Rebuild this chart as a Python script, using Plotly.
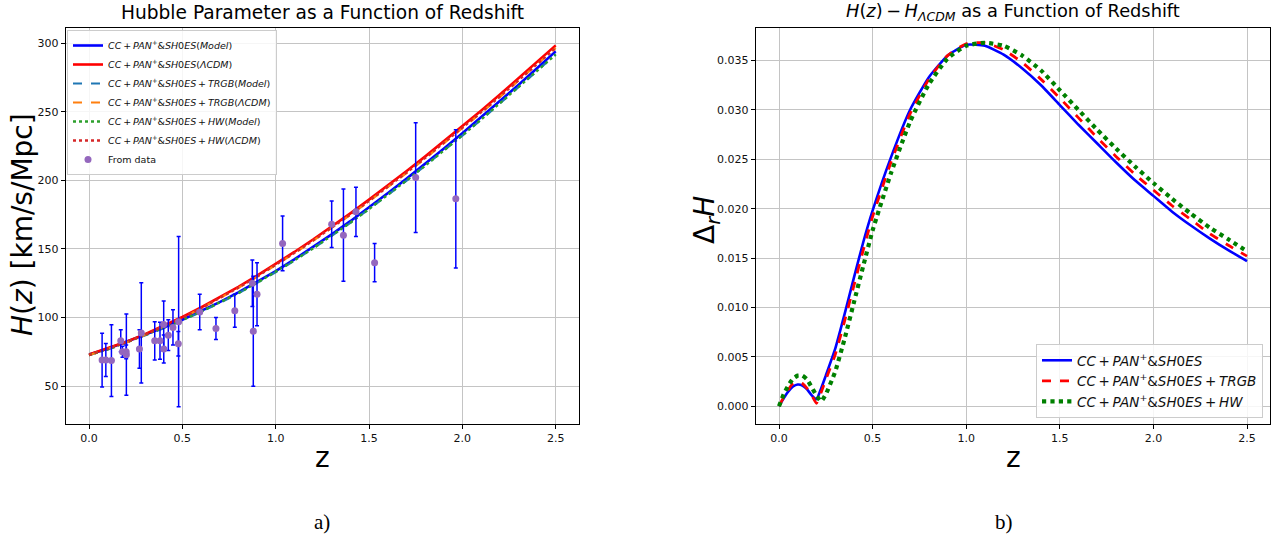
import plotly.graph_objects as go

# ---------------- data: panel a) ----------------
z_curve = [0.0, 0.1, 0.2, 0.3, 0.4, 0.5, 0.6, 0.7, 0.8, 0.9, 1.0, 1.1, 1.2, 1.3,
           1.4, 1.5, 1.6, 1.7, 1.8, 1.9, 2.0, 2.1, 2.2, 2.3, 2.4, 2.5]
H_model = [73.0, 77.23, 82.31, 87.38, 92.66, 98.39, 104.60, 111.23, 118.33, 125.90,
           133.90, 142.39, 151.29, 160.58, 170.22, 180.22, 190.51, 201.06, 211.88,
           222.96, 234.25, 245.79, 257.52, 269.47, 281.62, 293.96]
H_lcdm = [73.0, 77.40, 82.36, 87.87, 93.88, 100.38, 107.31, 114.67, 122.41, 130.53,
          138.99, 147.78, 156.87, 166.27, 175.94, 185.89, 196.10, 206.55, 217.25,
          228.19, 239.35, 250.73, 262.32, 274.13, 286.14, 298.35]
H_trgb_model = [72.53, 76.71, 81.80, 86.86, 92.15, 97.82, 103.97, 110.55, 117.58, 125.08,
                133.02, 141.42, 150.22, 159.44, 169.01, 178.92, 189.14, 199.63, 210.38,
                221.38, 232.58, 244.04, 255.68, 267.58, 279.65, 291.90]
H_trgb_lcdm = [72.53, 76.90, 81.82, 87.30, 93.27, 99.73, 106.61, 113.92, 121.61, 129.68,
               138.09, 146.82, 155.85, 165.19, 174.80, 184.68, 194.83, 205.21, 215.84,
               226.71, 237.79, 249.10, 260.61, 272.35, 284.28, 296.41]
H_hw_model = [72.63, 76.77, 81.87, 87.12, 92.43, 98.10, 104.24, 110.81, 117.83, 125.31,
              133.25, 141.63, 150.39, 159.57, 169.11, 179.04, 189.27, 199.77, 210.52,
              221.53, 232.77, 244.24, 255.92, 267.82, 279.90, 291.60]
H_hw_lcdm = [72.63, 77.01, 81.95, 87.43, 93.41, 99.88, 106.77, 114.10, 121.80, 129.88,
             138.30, 147.04, 156.09, 165.44, 175.06, 184.96, 195.12, 205.52, 216.16,
             227.05, 238.15, 249.48, 261.01, 272.76, 284.71, 296.40]

z_obs = [0.07, 0.09, 0.12, 0.17, 0.179, 0.199, 0.2, 0.27, 0.28, 0.352, 0.3802, 0.4,
         0.4004, 0.4247, 0.4497, 0.4783, 0.48, 0.593, 0.68, 0.781, 0.875, 0.88, 0.9,
         1.037, 1.3, 1.363, 1.43, 1.53, 1.75, 1.965]
H_obs = [69, 69, 68.6, 83, 75, 75, 72.9, 77, 88.8, 83, 83, 95, 77, 87.1, 92.8, 80.9,
         97, 104, 92, 105, 125, 90, 117, 154, 168, 160, 177, 140, 202, 186.5]
H_err = [19.6, 12, 26.2, 8, 4, 5, 29.6, 14, 36.6, 14, 13.5, 17, 10.2, 11.2, 12.9, 9,
         62, 13, 8, 12, 17, 40, 23, 20, 17, 33.6, 18, 14, 40, 50.4]

# ---------------- data: panel b) ----------------
z_d = [0.0, 0.025, 0.05, 0.075, 0.1, 0.125, 0.15, 0.175, 0.2, 0.225, 0.25, 0.3, 0.35,
       0.4, 0.45, 0.5, 0.6, 0.7, 0.8, 0.9, 1.0, 1.1, 1.2, 1.3, 1.4, 1.5, 1.6, 1.7,
       1.8, 1.9, 2.0, 2.1, 2.2, 2.3, 2.4, 2.5]
dH_base = [0.0, 0.0008, 0.0015, 0.0020, 0.0022, 0.0021, 0.0017, 0.0011, 0.0007, 0.0018,
           0.0031, 0.0058, 0.0093, 0.0130, 0.0166, 0.0198, 0.0253, 0.0300, 0.0333,
           0.0355, 0.0366, 0.0365, 0.0356, 0.0342, 0.0325, 0.0305, 0.0285, 0.0266,
           0.0247, 0.0229, 0.0213, 0.0197, 0.0183, 0.0170, 0.0158, 0.0147]
dH_trgb = [0.0, 0.0009, 0.0017, 0.0023, 0.0025, 0.0023, 0.0018, 0.0011, 0.0003, 0.0014,
           0.0027, 0.0052, 0.0086, 0.0122, 0.0158, 0.0192, 0.0248, 0.0296, 0.0331,
           0.0355, 0.0367, 0.0368, 0.0361, 0.0348, 0.0331, 0.0312, 0.0292, 0.0272,
           0.0253, 0.0235, 0.0219, 0.0203, 0.0189, 0.0175, 0.0163, 0.0152]
dH_hw = [0.0, 0.0012, 0.0021, 0.0028, 0.0031, 0.0031, 0.0027, 0.0019, 0.0011, 0.0005,
         0.0012, 0.0035, 0.0068, 0.0105, 0.0142, 0.0178, 0.0237, 0.0288, 0.0326,
         0.0352, 0.0365, 0.0368, 0.0365, 0.0355, 0.0340, 0.0320, 0.0300, 0.0280,
         0.0261, 0.0243, 0.0226, 0.0210, 0.0195, 0.0181, 0.0169, 0.0157]

W, Hpx = 1276, 542
def px(x):
    return x / W
def py(y):
    return 1 - y / Hpx

FONT = "DejaVu Sans"
TS = "\u2009"  # thin space (mathtext-like spacing around +)
lab = "<i>CC</i>" + TS + "+" + TS + "<i>PAN</i><sup>+</sup>&amp;<i>SH</i>0<i>ES</i>"
plus = TS + "+" + TS

fig = go.Figure()

left_series = [
    (H_model, lab + "(<i>Model</i>)", "#0000ff", "solid", 2.6),
    (H_lcdm, lab + "(<i>ΛCDM</i>)", "#ff0000", "solid", 2.6),
    (H_trgb_model, lab + plus + "<i>TRGB</i>(<i>Model</i>)", "#1f77b4", "dash", 2.2),
    (H_trgb_lcdm, lab + plus + "<i>TRGB</i>(<i>ΛCDM</i>)", "#ff7f0e", "dash", 2.2),
    (H_hw_model, lab + plus + "<i>HW</i>(<i>Model</i>)", "#2ca02c", "dot", 2.4),
    (H_hw_lcdm, lab + plus + "<i>HW</i>(<i>ΛCDM</i>)", "#d62728", "dot", 2.4),
]
for ys, name, col, dash, w in left_series:
    fig.add_trace(go.Scatter(x=z_curve, y=ys, mode="lines", name=name,
                             line=dict(color=col, dash=dash, width=w),
                             xaxis="x", yaxis="y", legend="legend"))

fig.add_trace(go.Scatter(x=z_obs, y=H_obs, mode="markers", name="From data",
                         marker=dict(color="#9467bd", size=7),
                         error_y=dict(type="data", array=H_err, color="#0000ff",
                                      thickness=1.5, width=2),
                         xaxis="x", yaxis="y", legend="legend"))

right_series = [
    (dH_base, lab, "#0000ff", "solid", 2.6),
    (dH_trgb, lab + plus + "<i>TRGB</i>", "#ff0000", "dash", 2.8),
    (dH_hw, lab + plus + "<i>HW</i>", "#008000", "dot", 4.2),
]
for ys, name, col, dash, w in right_series:
    fig.add_trace(go.Scatter(x=z_d, y=ys, mode="lines", name=name,
                             line=dict(color=col, dash=dash, width=w,
                                       shape="spline", smoothing=0.5),
                             xaxis="x2", yaxis="y2", legend="legend2"))

ax_common = dict(showline=True, mirror=True, linecolor="black", linewidth=1,
                 ticks="outside", ticklen=4, tickcolor="black", showgrid=True,
                 gridcolor="#c4c4c4", gridwidth=1, zeroline=False,
                 tickfont=dict(family=FONT, size=11, color="#111"))

ydom = [py(424), py(28)]
fig.update_layout(
    width=W, height=Hpx, margin=dict(l=0, r=0, t=0, b=0),
    paper_bgcolor="white", plot_bgcolor="white", showlegend=True,
    xaxis=dict(domain=[px(65.7), px(579)], range=[-0.125, 2.625], anchor="y",
               tickvals=[0, 0.5, 1.0, 1.5, 2.0, 2.5], tickformat=".1f", **ax_common),
    yaxis=dict(domain=ydom, range=[22.4, 311], anchor="x",
               tickvals=[50, 100, 150, 200, 250, 300], **ax_common),
    xaxis2=dict(domain=[px(755.6), px(1270.4)], range=[-0.125, 2.625], anchor="y2",
                tickvals=[0, 0.5, 1.0, 1.5, 2.0, 2.5], tickformat=".1f", **ax_common),
    yaxis2=dict(domain=ydom, range=[-0.0018, 0.0383], anchor="x2",
                tickvals=[0, 0.005, 0.01, 0.015, 0.02, 0.025, 0.03, 0.035],
                tickformat=".3f", **ax_common),
    legend=dict(x=px(67), y=py(30), xanchor="left", yanchor="top",
                bgcolor="rgba(255,255,255,0.85)", bordercolor="#cccccc", borderwidth=1,
                font=dict(family=FONT, size=9.5, color="#111"), tracegroupgap=0,
                itemwidth=30),
    legend2=dict(x=px(1263), y=py(418), xanchor="right", yanchor="bottom",
                 bgcolor="rgba(255,255,255,0.85)", bordercolor="#cccccc", borderwidth=1,
                 font=dict(family=FONT, size=13.5, color="#111"), itemwidth=30),
)

ann = [
    dict(x=px(322), y=py(12), text="Hubble Parameter as a Function of Redshift",
         font=dict(family=FONT, size=18.6, color="black")),
    dict(x=px(1013), y=py(12),
         text="<i>H</i>(<i>z</i>)" + TS + "−" + TS + "<i>H</i><sub><i>ΛCDM</i></sub> as a Function of Redshift",
         font=dict(family=FONT, size=17.8, color="black")),
    dict(x=px(22), y=py(225), text="<i>H</i>(<i>z</i>) [km/s/Mpc]", textangle=-90,
         font=dict(family=FONT, size=28, color="black")),
    dict(x=px(706), y=py(220), text="Δ<sub><i>r</i></sub><i>H</i>", textangle=-90,
         font=dict(family=FONT, size=28, color="black")),
    dict(x=px(322), y=py(457), text="z", font=dict(family=FONT, size=28, color="black")),
    dict(x=px(1013), y=py(457), text="z", font=dict(family=FONT, size=28, color="black")),
    dict(x=px(322), y=py(522), text="a)",
         font=dict(family="Liberation Serif", size=21, color="black")),
    dict(x=px(1004), y=py(522), text="b)",
         font=dict(family="Liberation Serif", size=21, color="black")),
]
for a in ann:
    fig.add_annotation(xref="paper", yref="paper", showarrow=False,
                       xanchor="center", yanchor="middle", **a)

fig.write_html("out.html")
